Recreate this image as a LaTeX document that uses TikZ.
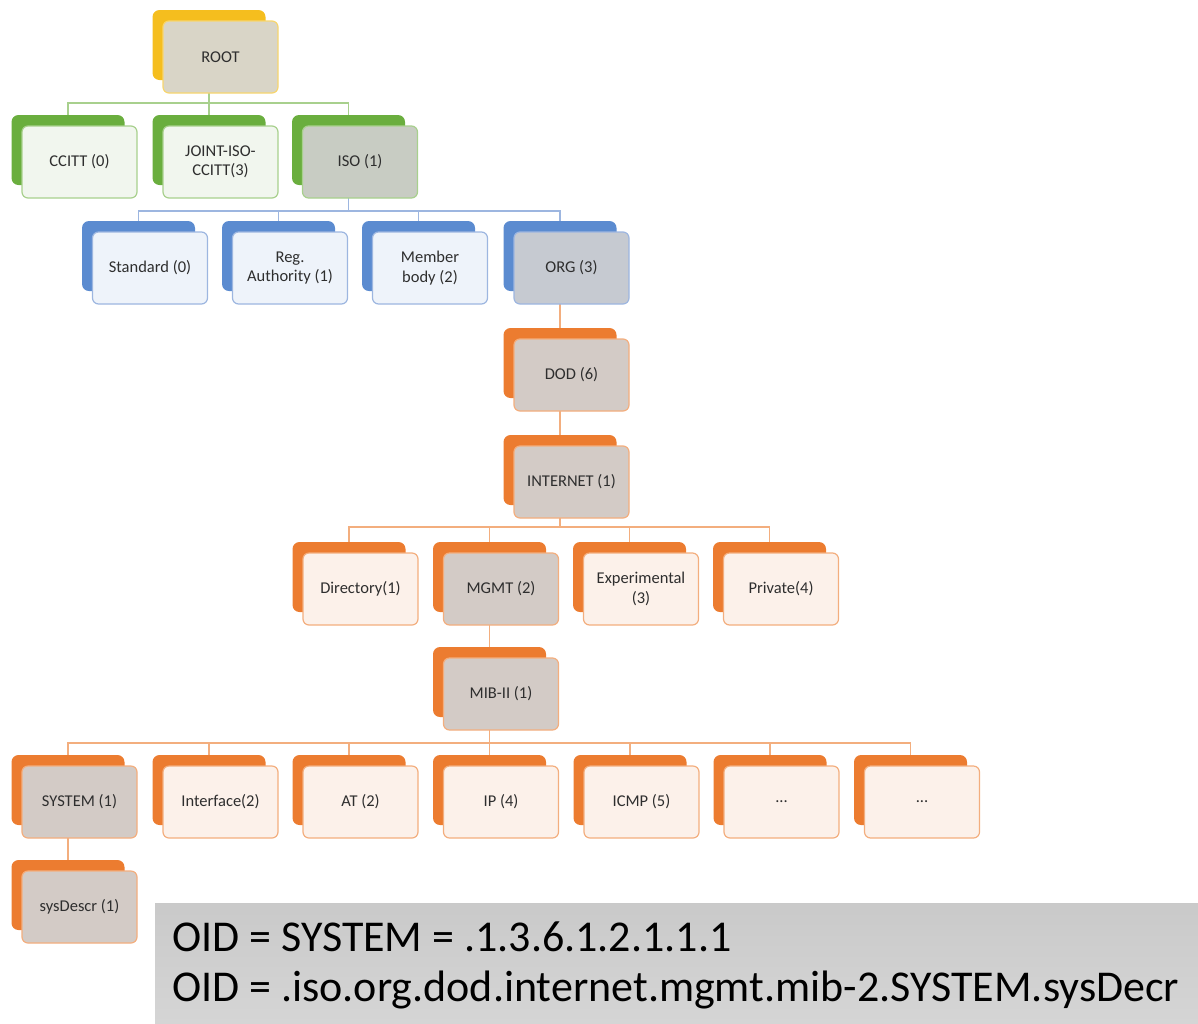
\documentclass[tikz,border=0pt]{standalone}
\usepackage{fontspec}
\setmainfont{Carlito}
\usetikzlibrary{backgrounds}
\definecolor{cgold}{HTML}{F5BE1E}
\definecolor{crootfill}{HTML}{D9D5C7}
\definecolor{crootline}{HTML}{F7D56E}
\definecolor{cgreen}{HTML}{6AAE3E}
\definecolor{cgreenfill}{HTML}{F1F6EE}
\definecolor{cgreenline}{HTML}{A8D08D}
\definecolor{cisofill}{HTML}{C8CCC3}
\definecolor{cblue}{HTML}{5B8BD0}
\definecolor{cbluefill}{HTML}{EEF3FA}
\definecolor{cblueline}{HTML}{9DB6E0}
\definecolor{corgfill}{HTML}{C6CAD1}
\definecolor{corange}{HTML}{EC7C30}
\definecolor{cpeach}{HTML}{FCF1EA}
\definecolor{corangeline}{HTML}{F3AE7E}
\definecolor{chl}{HTML}{D3CBC6}
\definecolor{ctext}{HTML}{2E2E2E}
\tikzset{
  backbox/.style={draw=none, rounded corners=7pt, minimum width=113pt, minimum height=70pt, inner sep=0pt},
  frontbox/.style={rounded corners=6pt, line width=1.2pt, minimum width=115pt, minimum height=72pt, inner sep=2pt,
     align=center, text=ctext, font=\fontsize{16.5}{19.5}\selectfont},
  gconn/.style={draw=cgreenline, line width=1.5pt},
  bconn/.style={draw=cblueline, line width=1.5pt},
  oconn/.style={draw=corangeline, line width=1.5pt},
  oidbox/.style={draw=none, top color=gray!42, bottom color=gray!33, minimum width=1043pt, minimum height=120pt, inner sep=0pt, anchor=north west},
  oidtext/.style={anchor=west, align=left, text=black, inner sep=0pt, font=\fontsize{44}{50}\selectfont}
}
\begin{document}
\begin{tikzpicture}[x=1pt,y=-1pt]
\useasboundingbox (0,0) rectangle (1198,1023);
% ROOT
\node[backbox, fill=cgold] (rootb) at (209,45) {};
\node[frontbox, draw=crootline, fill=crootfill] (root) at (220.5,57) {ROOT};
% level 1
\node[backbox, fill=cgreen] (ccittb) at (68,150) {};
\node[frontbox, draw=cgreenline, fill=cgreenfill] (ccitt) at (79.5,162) {CCITT (0)};
\node[backbox, fill=cgreen] (jointb) at (209,150) {};
\node[frontbox, draw=cgreenline, fill=cgreenfill] (joint) at (220.5,162) {JOINT-ISO-\\CCITT(3)};
\node[backbox, fill=cgreen] (isob) at (348.5,150) {};
\node[frontbox, draw=cgreenline, fill=cisofill] (iso) at (360,162) {ISO (1)};
% level 2
\node[backbox, fill=cblue] (stdb) at (138.5,256) {};
\node[frontbox, draw=cblueline, fill=cbluefill] (std) at (150,268) {Standard (0)};
\node[backbox, fill=cblue] (regb) at (278.5,256) {};
\node[frontbox, draw=cblueline, fill=cbluefill] (reg) at (290,268) {Reg.\\Authority (1)};
\node[backbox, fill=cblue] (memb) at (418.5,256) {};
\node[frontbox, draw=cblueline, fill=cbluefill] (mem) at (430,268) {Member\\body (2)};
\node[backbox, fill=cblue] (orgb) at (560,256) {};
\node[frontbox, draw=cblueline, fill=corgfill] (org) at (571.5,268) {ORG (3)};
% DOD, INTERNET
\node[backbox, fill=corange] (dodb) at (560,363) {};
\node[frontbox, draw=corangeline, fill=chl] (dod) at (571.5,375) {DOD (6)};
\node[backbox, fill=corange] (inetb) at (560,470) {};
\node[frontbox, draw=corangeline, fill=chl] (inet) at (571.5,482) {INTERNET (1)};
% level 4
\node[backbox, fill=corange] (dirb) at (349,577) {};
\node[frontbox, draw=corangeline, fill=cpeach] (dir) at (360.5,589) {Directory(1)};
\node[backbox, fill=corange] (mgmtb) at (489.5,577) {};
\node[frontbox, draw=corangeline, fill=chl] (mgmt) at (501,589) {MGMT (2)};
\node[backbox, fill=corange] (expb) at (629.5,577) {};
\node[frontbox, draw=corangeline, fill=cpeach] (exp) at (641,589) {Experimental\\(3)};
\node[backbox, fill=corange] (privb) at (769.5,577) {};
\node[frontbox, draw=corangeline, fill=cpeach] (priv) at (781,589) {Private(4)};
% MIB-II
\node[backbox, fill=corange] (mibb) at (489.5,682) {};
\node[frontbox, draw=corangeline, fill=chl] (mib) at (501,694) {MIB-II (1)};
% level 6
\node[backbox, fill=corange] (sysb) at (68,790) {};
\node[frontbox, draw=corangeline, fill=chl] (sys) at (79.5,802) {SYSTEM (1)};
\node[backbox, fill=corange] (ifb) at (209,790) {};
\node[frontbox, draw=corangeline, fill=cpeach] (if) at (220.5,802) {Interface(2)};
\node[backbox, fill=corange] (atb) at (349,790) {};
\node[frontbox, draw=corangeline, fill=cpeach] (at) at (360.5,802) {AT (2)};
\node[backbox, fill=corange] (ipb) at (489.5,790) {};
\node[frontbox, draw=corangeline, fill=cpeach] (ip) at (501,802) {IP (4)};
\node[backbox, fill=corange] (icmpb) at (630,790) {};
\node[frontbox, draw=corangeline, fill=cpeach] (icmp) at (641.5,802) {ICMP (5)};
\node[backbox, fill=corange] (dotab) at (770,790) {};
\node[frontbox, draw=corangeline, fill=cpeach] (dota) at (781.5,802) {...};
\node[backbox, fill=corange] (dotbb) at (910.5,790) {};
\node[frontbox, draw=corangeline, fill=cpeach] (dotb) at (922,802) {...};
% sysDescr
\node[backbox, fill=corange] (descrb) at (68,895) {};
\node[frontbox, draw=corangeline, fill=chl] (descr) at (79.5,907) {sysDescr (1)};
% OID box
\node[oidbox] (oid) at (155,903) {};
\node[oidtext] (oidt) at ([xshift=17pt,yshift=-2pt]oid.west) {OID = SYSTEM = .1.3.6.1.2.1.1.1\\OID = .iso.org.dod.internet.mgmt.mib-2.SYSTEM.sysDecr};
% connectors
\begin{pgfonlayer}{background}
\coordinate (gbar) at (209,103);
\draw[gconn] (rootb.center) -- (gbar) -| (ccittb.center);
\draw[gconn] (gbar) -| (jointb.center);
\draw[gconn] (gbar) -| (isob.center);
\coordinate (bbar) at (348.5,211);
\draw[bconn] (isob.center) -- (bbar) -| (stdb.center);
\draw[bconn] (bbar) -| (regb.center);
\draw[bconn] (bbar) -| (memb.center);
\draw[bconn] (bbar) -| (orgb.center);
\draw[oconn] (orgb.center) -- (dodb.center);
\draw[oconn] (dodb.center) -- (inetb.center);
\coordinate (obar) at (560,527);
\draw[oconn] (inetb.center) -- (obar) -| (dirb.center);
\draw[oconn] (obar) -| (mgmtb.center);
\draw[oconn] (obar) -| (expb.center);
\draw[oconn] (obar) -| (privb.center);
\draw[oconn] (mgmtb.center) -- (mibb.center);
\coordinate (mbar) at (489.5,743);
\draw[oconn] (mibb.center) -- (mbar) -| (sysb.center);
\draw[oconn] (mbar) -| (ifb.center);
\draw[oconn] (mbar) -| (atb.center);
\draw[oconn] (mbar) -| (ipb.center);
\draw[oconn] (mbar) -| (icmpb.center);
\draw[oconn] (mbar) -| (dotab.center);
\draw[oconn] (mbar) -| (dotbb.center);
\draw[oconn] (sysb.center) -- (descrb.center);
\end{pgfonlayer}
\end{tikzpicture}
\end{document}
